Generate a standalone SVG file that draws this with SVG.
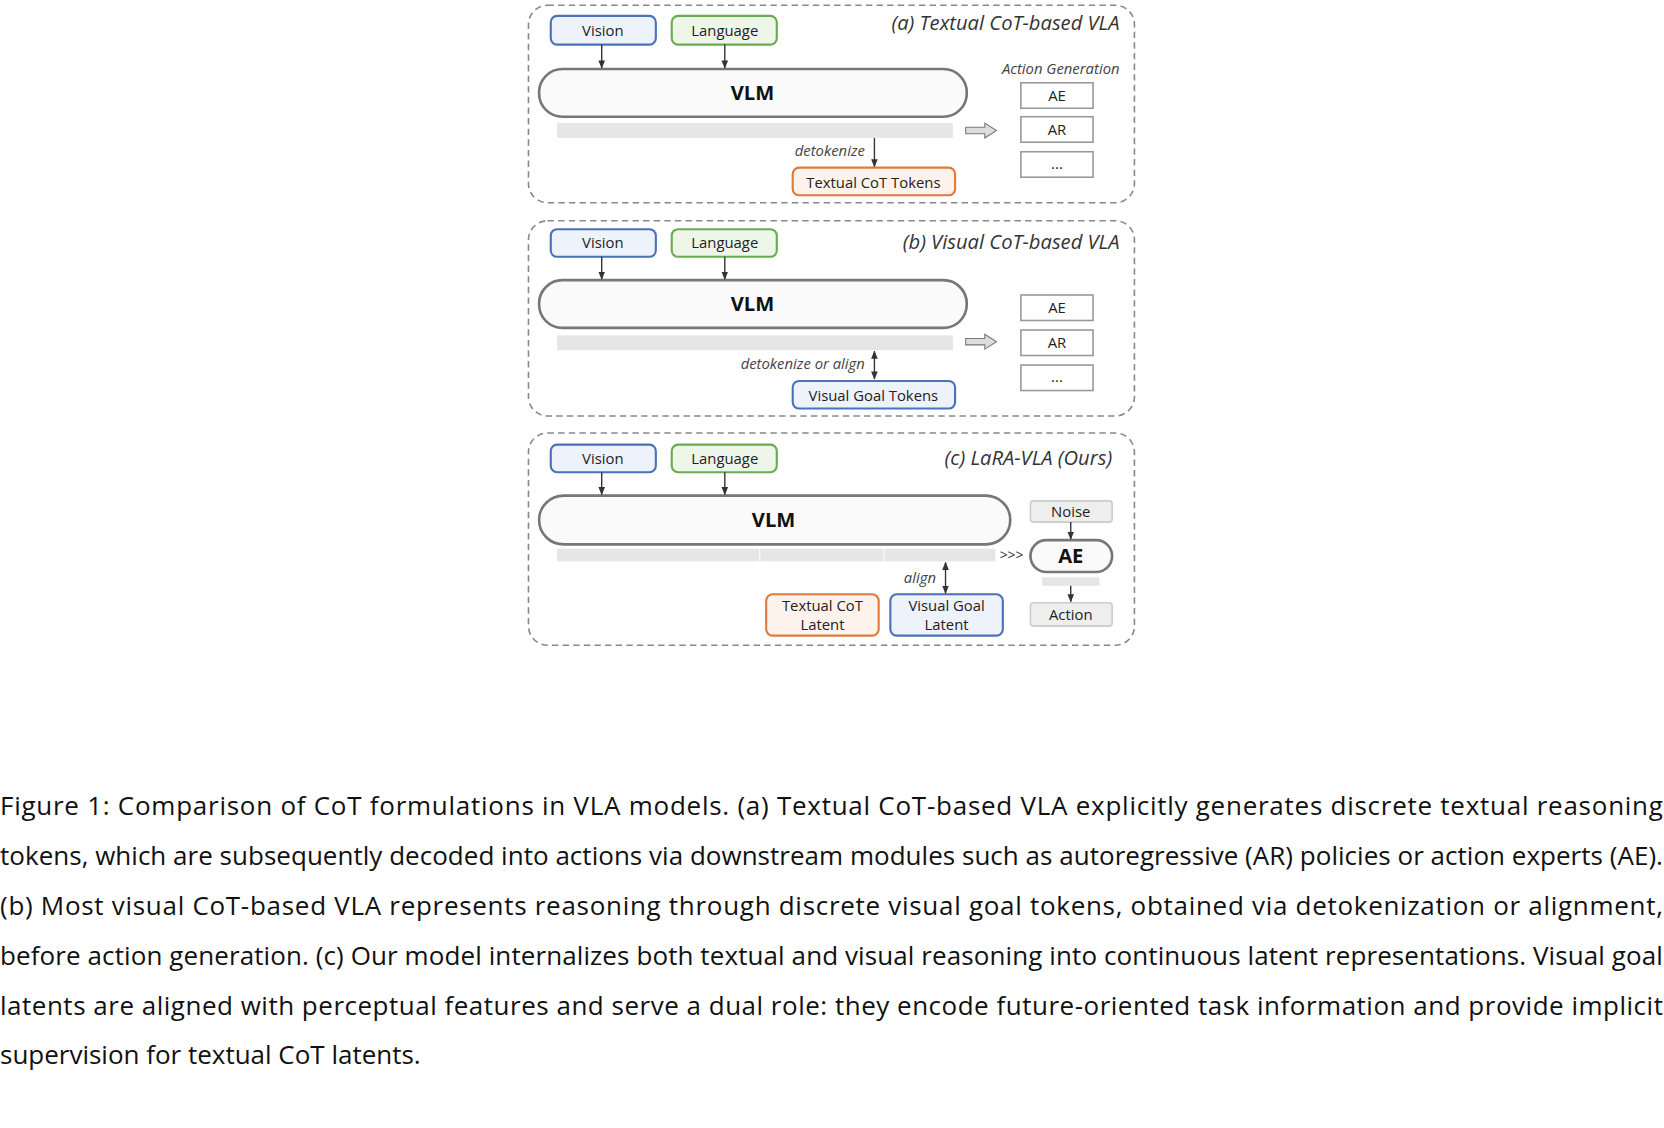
<svg xmlns="http://www.w3.org/2000/svg" width="1664" height="1128" viewBox="0 0 1664 1128">
<defs>
<marker id="ah" viewBox="0 0 10 10" refX="9" refY="5" markerWidth="6" markerHeight="6" orient="auto-start-reverse"><path d="M0,1 L10,5 L0,9 z" fill="#333"/></marker>
</defs>
<style>
text{font-family:"Open Sans","Noto Sans",sans-serif;fill:#222}
.panel{fill:none;stroke:#888;stroke-width:1.5;stroke-dasharray:6 4}
.vis{fill:#eef2fa;stroke:#4a72b8;stroke-width:2}
.lang{fill:#eef6ea;stroke:#6aaa50;stroke-width:2}
.org{fill:#fdf3ec;stroke:#e07a3a;stroke-width:2}
.vlm{fill:#fafafa;stroke:#777;stroke-width:2.5}
.bar{fill:#e6e6e6}
.gen{fill:#fff;stroke:#999;stroke-width:1.5}
.grey{fill:#eeeeee;stroke:#cccccc;stroke-width:1.5}
.lbl{font-size:14px;text-anchor:middle}
.it{font-style:italic;font-size:14px;fill:#444}
.ttl{font-style:italic;font-size:19px;text-anchor:end;fill:#333}
.big{font-weight:bold;font-size:19px;text-anchor:middle;fill:#111}
.ln{stroke:#333;stroke-width:1.3;fill:none}
.cap{font-size:24.5px;fill:#111}
</style>
<g transform="scale(1.0612)">
<g id="panelA">
<rect class="panel" x="498" y="5" width="571" height="186" rx="18"/>
<text class="ttl" x="1055" y="28">(a) Textual CoT-based VLA</text>
</g>
<g id="a_vision"><rect class="vis" x="519" y="15" width="99" height="27" rx="6"/><text class="lbl" x="568" y="34">Vision</text></g>
<g id="a_language"><rect class="lang" x="633" y="15" width="99" height="27" rx="6"/><text class="lbl" x="683" y="34">Language</text></g>
<g id="a_vlm"><rect class="vlm" x="508" y="65" width="403" height="45" rx="22"/><text class="big" x="709" y="94">VLM</text></g>
<g id="a_bar"><rect class="bar" x="525" y="116" width="373" height="14"/></g>
<g id="a_tokens"><rect class="org" x="747" y="158" width="153" height="26" rx="6"/><text class="lbl" x="823" y="177">Textual CoT Tokens</text></g>
<g id="a_gen">
<text class="it" x="1055" y="70" text-anchor="end">Action Generation</text>
<rect class="gen" x="962" y="78" width="68" height="24"/><text class="lbl" x="996" y="95">AE</text>
<rect class="gen" x="962" y="110" width="68" height="24"/><text class="lbl" x="996" y="127">AR</text>
<rect class="gen" x="962" y="143" width="68" height="24"/><text class="lbl" x="996" y="159">...</text>
</g>
<g id="panelB">
<rect class="panel" x="498" y="208" width="571" height="184" rx="18"/>
<text class="ttl" x="1055" y="235">(b) Visual CoT-based VLA</text>
</g>
<g id="b_vision"><rect class="vis" x="519" y="216" width="99" height="26" rx="6"/><text class="lbl" x="568" y="234">Vision</text></g>
<g id="b_language"><rect class="lang" x="633" y="216" width="99" height="26" rx="6"/><text class="lbl" x="683" y="234">Language</text></g>
<g id="b_vlm"><rect class="vlm" x="508" y="264" width="403" height="45" rx="22"/><text class="big" x="709" y="293">VLM</text></g>
<g id="b_bar"><rect class="bar" x="525" y="316" width="373" height="14"/></g>
<g id="b_tokens"><rect class="vis" x="747" y="359" width="153" height="26" rx="6"/><text class="lbl" x="823" y="378">Visual Goal Tokens</text></g>
<g id="b_gen">
<rect class="gen" x="962" y="278" width="68" height="24"/><text class="lbl" x="996" y="295">AE</text>
<rect class="gen" x="962" y="311" width="68" height="24"/><text class="lbl" x="996" y="328">AR</text>
<rect class="gen" x="962" y="344" width="68" height="24"/><text class="lbl" x="996" y="360">...</text>
</g>
<g id="panelC">
<rect class="panel" x="498" y="408" width="571" height="200" rx="18"/>
<text class="ttl" x="1048" y="438">(c) LaRA-VLA (Ours)</text>
</g>
<g id="c_vision"><rect class="vis" x="519" y="419" width="99" height="26" rx="6"/><text class="lbl" x="568" y="437">Vision</text></g>
<g id="c_language"><rect class="lang" x="633" y="419" width="99" height="26" rx="6"/><text class="lbl" x="683" y="437">Language</text></g>
<g id="c_vlm"><rect class="vlm" x="508" y="467" width="444" height="46" rx="23"/><text class="big" x="729" y="497">VLM</text></g>
<g id="c_bar"><rect class="bar" x="525" y="517" width="413" height="12"/><line x1="716" y1="517" x2="716" y2="529" stroke="#fff"/><line x1="833" y1="517" x2="833" y2="529" stroke="#fff"/></g>
<g id="c_textlat"><rect class="org" x="722" y="560" width="106" height="39" rx="6"/><text class="lbl" x="775" y="576">Textual CoT</text><text class="lbl" x="775" y="594">Latent</text></g>
<g id="c_vislat"><rect class="vis" x="839" y="560" width="106" height="39" rx="6"/><text class="lbl" x="892" y="576">Visual Goal</text><text class="lbl" x="892" y="594">Latent</text></g>
<g id="c_noise"><rect class="grey" x="971" y="472" width="77" height="20" rx="3"/><text class="lbl" x="1009" y="487">Noise</text></g>
<g id="c_ae"><rect class="vlm" x="971" y="509" width="77" height="30" rx="15"/><text class="big" x="1009" y="531">AE</text></g>
<g id="c_aebar"><rect class="bar" x="982" y="544" width="54" height="8"/></g>
<g id="c_action"><rect class="grey" x="971" y="568" width="77" height="22" rx="3"/><text class="lbl" x="1009" y="584">Action</text></g>
<g id="connectors">
<line class="ln" x1="567" y1="42" x2="567" y2="64" marker-end="url(#ah)"/>
<line class="ln" x1="683" y1="42" x2="683" y2="64" marker-end="url(#ah)"/>
<line class="ln" x1="824" y1="130" x2="824" y2="157" marker-end="url(#ah)"/>
<text class="it" x="815" y="147" text-anchor="end">detokenize</text>
<path d="M910,120 h18 v-4 l11,7 l-11,7 v-4 h-18 z" fill="#ddd" stroke="#777"/>
<line class="ln" x1="567" y1="242" x2="567" y2="263" marker-end="url(#ah)"/>
<line class="ln" x1="683" y1="242" x2="683" y2="263" marker-end="url(#ah)"/>
<line class="ln" x1="824" y1="331" x2="824" y2="357" marker-start="url(#ah)" marker-end="url(#ah)"/>
<text class="it" x="815" y="348" text-anchor="end">detokenize or align</text>
<path d="M910,319 h18 v-4 l11,7 l-11,7 v-4 h-18 z" fill="#ddd" stroke="#777"/>
<line class="ln" x1="567" y1="445" x2="567" y2="466" marker-end="url(#ah)"/>
<line class="ln" x1="683" y1="445" x2="683" y2="466" marker-end="url(#ah)"/>
<line class="ln" x1="891" y1="530" x2="891" y2="559" marker-start="url(#ah)" marker-end="url(#ah)"/>
<text class="it" x="882" y="549" text-anchor="end">align</text>
<text x="942" y="528" style="font-size:13px;fill:#333">&gt;&gt;&gt;</text>
<line class="ln" x1="1009" y1="492" x2="1009" y2="508" marker-end="url(#ah)"/>
<line class="ln" x1="1009" y1="552" x2="1009" y2="567" marker-end="url(#ah)"/>
</g>
<g id="caption">
<text class="cap" x="0" y="768" textLength="1567" lengthAdjust="spacing">Figure 1:  Comparison of CoT formulations in VLA models. (a) Textual CoT-based VLA explicitly generates discrete textual reasoning</text>
<text class="cap" x="0" y="815" textLength="1567" lengthAdjust="spacing">tokens, which are subsequently decoded into actions via downstream modules such as autoregressive (AR) policies or action experts (AE).</text>
<text class="cap" x="0" y="862" textLength="1567" lengthAdjust="spacing">(b) Most visual CoT-based VLA represents reasoning through discrete visual goal tokens, obtained via detokenization or alignment,</text>
<text class="cap" x="0" y="909" textLength="1567" lengthAdjust="spacing">before action generation. (c) Our model internalizes both textual and visual reasoning into continuous latent representations. Visual goal</text>
<text class="cap" x="0" y="956" textLength="1567" lengthAdjust="spacing">latents are aligned with perceptual features and serve a dual role: they encode future-oriented task information and provide implicit</text>
<text class="cap" x="0" y="1003">supervision for textual CoT latents.</text>
</g>
</g>
</svg>
